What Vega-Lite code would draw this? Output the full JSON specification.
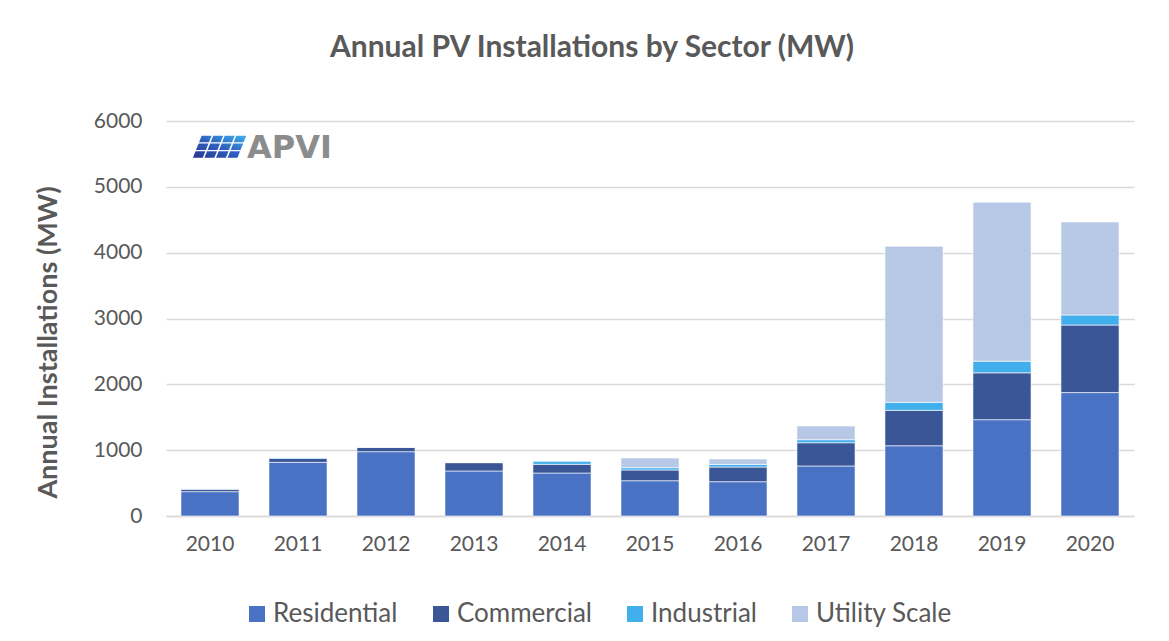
{
  "$schema": "https://vega.github.io/schema/vega-lite/v6.json",
  "autosize": {"type": "none"},
  "padding": {"left": 166, "top": 121, "right": 35, "bottom": 125},
  "width": 968,
  "height": 395,
  "background": "#ffffff",
  "title": {
    "text": "Annual PV Installations by Sector (MW)",
    "anchor": "middle",
    "dx": -58,
    "offset": 47,
    "font": "Lato",
    "fontSize": 30,
    "fontWeight": "bold",
    "color": "#595959"
  },
  "datasets": {
    "pv": [
      {"year": "2010", "sector": "Residential", "mw": 370},
      {"year": "2010", "sector": "Commercial", "mw": 35},
      {"year": "2010", "sector": "Industrial", "mw": 10},
      {"year": "2010", "sector": "Utility Scale", "mw": 0},
      {"year": "2011", "sector": "Residential", "mw": 815},
      {"year": "2011", "sector": "Commercial", "mw": 60},
      {"year": "2011", "sector": "Industrial", "mw": 15},
      {"year": "2011", "sector": "Utility Scale", "mw": 0},
      {"year": "2012", "sector": "Residential", "mw": 977},
      {"year": "2012", "sector": "Commercial", "mw": 65},
      {"year": "2012", "sector": "Industrial", "mw": 6},
      {"year": "2012", "sector": "Utility Scale", "mw": 0},
      {"year": "2013", "sector": "Residential", "mw": 684},
      {"year": "2013", "sector": "Commercial", "mw": 126},
      {"year": "2013", "sector": "Industrial", "mw": 5},
      {"year": "2013", "sector": "Utility Scale", "mw": 0},
      {"year": "2014", "sector": "Residential", "mw": 653},
      {"year": "2014", "sector": "Commercial", "mw": 132},
      {"year": "2014", "sector": "Industrial", "mw": 50},
      {"year": "2014", "sector": "Utility Scale", "mw": 0},
      {"year": "2015", "sector": "Residential", "mw": 536},
      {"year": "2015", "sector": "Commercial", "mw": 163},
      {"year": "2015", "sector": "Industrial", "mw": 35},
      {"year": "2015", "sector": "Utility Scale", "mw": 147},
      {"year": "2016", "sector": "Residential", "mw": 521},
      {"year": "2016", "sector": "Commercial", "mw": 223},
      {"year": "2016", "sector": "Industrial", "mw": 40},
      {"year": "2016", "sector": "Utility Scale", "mw": 82},
      {"year": "2017", "sector": "Residential", "mw": 760},
      {"year": "2017", "sector": "Commercial", "mw": 353},
      {"year": "2017", "sector": "Industrial", "mw": 46},
      {"year": "2017", "sector": "Utility Scale", "mw": 208},
      {"year": "2018", "sector": "Residential", "mw": 1067},
      {"year": "2018", "sector": "Commercial", "mw": 538},
      {"year": "2018", "sector": "Industrial", "mw": 122},
      {"year": "2018", "sector": "Utility Scale", "mw": 2369},
      {"year": "2019", "sector": "Residential", "mw": 1463},
      {"year": "2019", "sector": "Commercial", "mw": 712},
      {"year": "2019", "sector": "Industrial", "mw": 177},
      {"year": "2019", "sector": "Utility Scale", "mw": 2415},
      {"year": "2020", "sector": "Residential", "mw": 1875},
      {"year": "2020", "sector": "Commercial", "mw": 1026},
      {"year": "2020", "sector": "Industrial", "mw": 152},
      {"year": "2020", "sector": "Utility Scale", "mw": 1413}
    ],
    "logo": [
      {"year": "2010", "mw": 5605, "label": "APVI", "texty": 5438}
    ]
  },
  "layer": [
    {
      "data": {"name": "pv"},
      "transform": [
        {"calculate": "indexof(['Residential', 'Commercial', 'Industrial', 'Utility Scale'], datum.sector)", "as": "stackRank"}
      ],
      "mark": {"type": "bar", "stroke": "#ffffff", "strokeWidth": 1, "strokeOpacity": 0.6},
      "encoding": {
        "x": {
          "field": "year",
          "type": "ordinal",
          "scale": {"paddingInner": 0.34, "paddingOuter": 0.17},
          "axis": {
            "title": null,
            "labelAngle": 0,
            "labelFont": "Lato",
            "labelFontSize": 21,
            "labelColor": "#595959",
            "labelPadding": 17,
            "ticks": false,
            "tickSize": 0,
            "domainColor": "#d9d9d9",
            "domainWidth": 1.5,
            "grid": false
          }
        },
        "y": {
          "field": "mw",
          "type": "quantitative",
          "stack": "zero",
          "scale": {"domain": [0, 6000], "nice": false},
          "axis": {
            "title": "Annual Installations (MW)",
            "titleFont": "Lato",
            "titleFontSize": 27,
            "titleFontWeight": "bold",
            "titleColor": "#595959",
            "titlePadding": 31,
            "titleY": 221,
            "values": [0, 1000, 2000, 3000, 4000, 5000, 6000],
            "format": "d",
            "labelFont": "Lato",
            "labelFontSize": 21,
            "labelColor": "#595959",
            "labelPadding": 24,
            "ticks": false,
            "tickSize": 0,
            "domain": false,
            "grid": true,
            "gridColor": "#d9d9d9",
            "gridWidth": 1.5
          }
        },
        "color": {
          "field": "sector",
          "type": "nominal",
          "sort": ["Residential", "Commercial", "Industrial", "Utility Scale"],
          "scale": {
            "domain": ["Residential", "Commercial", "Industrial", "Utility Scale"],
            "range": ["#4a72c4", "#3a5697", "#41afec", "#b7c8e6"]
          },
          "legend": {
            "title": null,
            "orient": "none",
            "direction": "horizontal",
            "legendX": 78,
            "legendY": 480,
            "padding": 0,
            "symbolType": "square",
            "symbolSize": 256,
            "symbolStrokeWidth": 0,
            "labelFont": "Lato",
            "labelFontSize": 26,
            "labelColor": "#595959",
            "labelOffset": 3,
            "columnPadding": 30
          }
        },
        "order": {"field": "stackRank", "type": "quantitative", "sort": "ascending"}
      }
    },
    {
      "data": {"name": "logo"},
      "mark": {
        "type": "point",
        "filled": true,
        "size": 3025,
        "xOffset": 10,
        "strokeWidth": 0,
        "opacity": 1,
        "shape": "M-0.762,-0.17L-0.402,-0.17L-0.306,-0.41L-0.666,-0.41Z M-0.342,-0.17L0.018,-0.17L0.114,-0.41L-0.246,-0.41Z M0.078,-0.17L0.438,-0.17L0.534,-0.41L0.174,-0.41Z M0.498,-0.17L0.858,-0.17L0.954,-0.41L0.594,-0.41Z M-0.874,0.11L-0.514,0.11L-0.418,-0.13L-0.778,-0.13Z M-0.454,0.11L-0.094,0.11L0.002,-0.13L-0.358,-0.13Z M-0.034,0.11L0.326,0.11L0.422,-0.13L0.062,-0.13Z M0.386,0.11L0.746,0.11L0.842,-0.13L0.482,-0.13Z M-0.986,0.39L-0.626,0.39L-0.53,0.15L-0.89,0.15Z M-0.566,0.39L-0.206,0.39L-0.11,0.15L-0.47,0.15Z M-0.146,0.39L0.214,0.39L0.31,0.15L-0.05,0.15Z M0.274,0.39L0.634,0.39L0.73,0.15L0.37,0.15Z",
        "fill": {
          "gradient": "linear",
          "x1": 0, "y1": 1, "x2": 1, "y2": 0,
          "stops": [
            {"offset": 0, "color": "#27358f"},
            {"offset": 0.5, "color": "#2f5fc0"},
            {"offset": 1, "color": "#3fb2ea"}
          ]
        }
      },
      "encoding": {
        "x": {"field": "year", "type": "ordinal"},
        "y": {"field": "mw", "type": "quantitative"}
      }
    },
    {
      "data": {"name": "logo"},
      "mark": {
        "type": "text",
        "align": "left",
        "baseline": "alphabetic",
        "dx": 37,
        "font": "DejaVu Sans",
        "fontSize": 32,
        "fontWeight": "bold",
        "color": "#8c8c8c"
      },
      "encoding": {
        "x": {"field": "year", "type": "ordinal"},
        "y": {"field": "texty", "type": "quantitative"},
        "text": {"field": "label"}
      }
    }
  ],
  "config": {
    "view": {"stroke": null},
    "font": "Lato"
  }
}
